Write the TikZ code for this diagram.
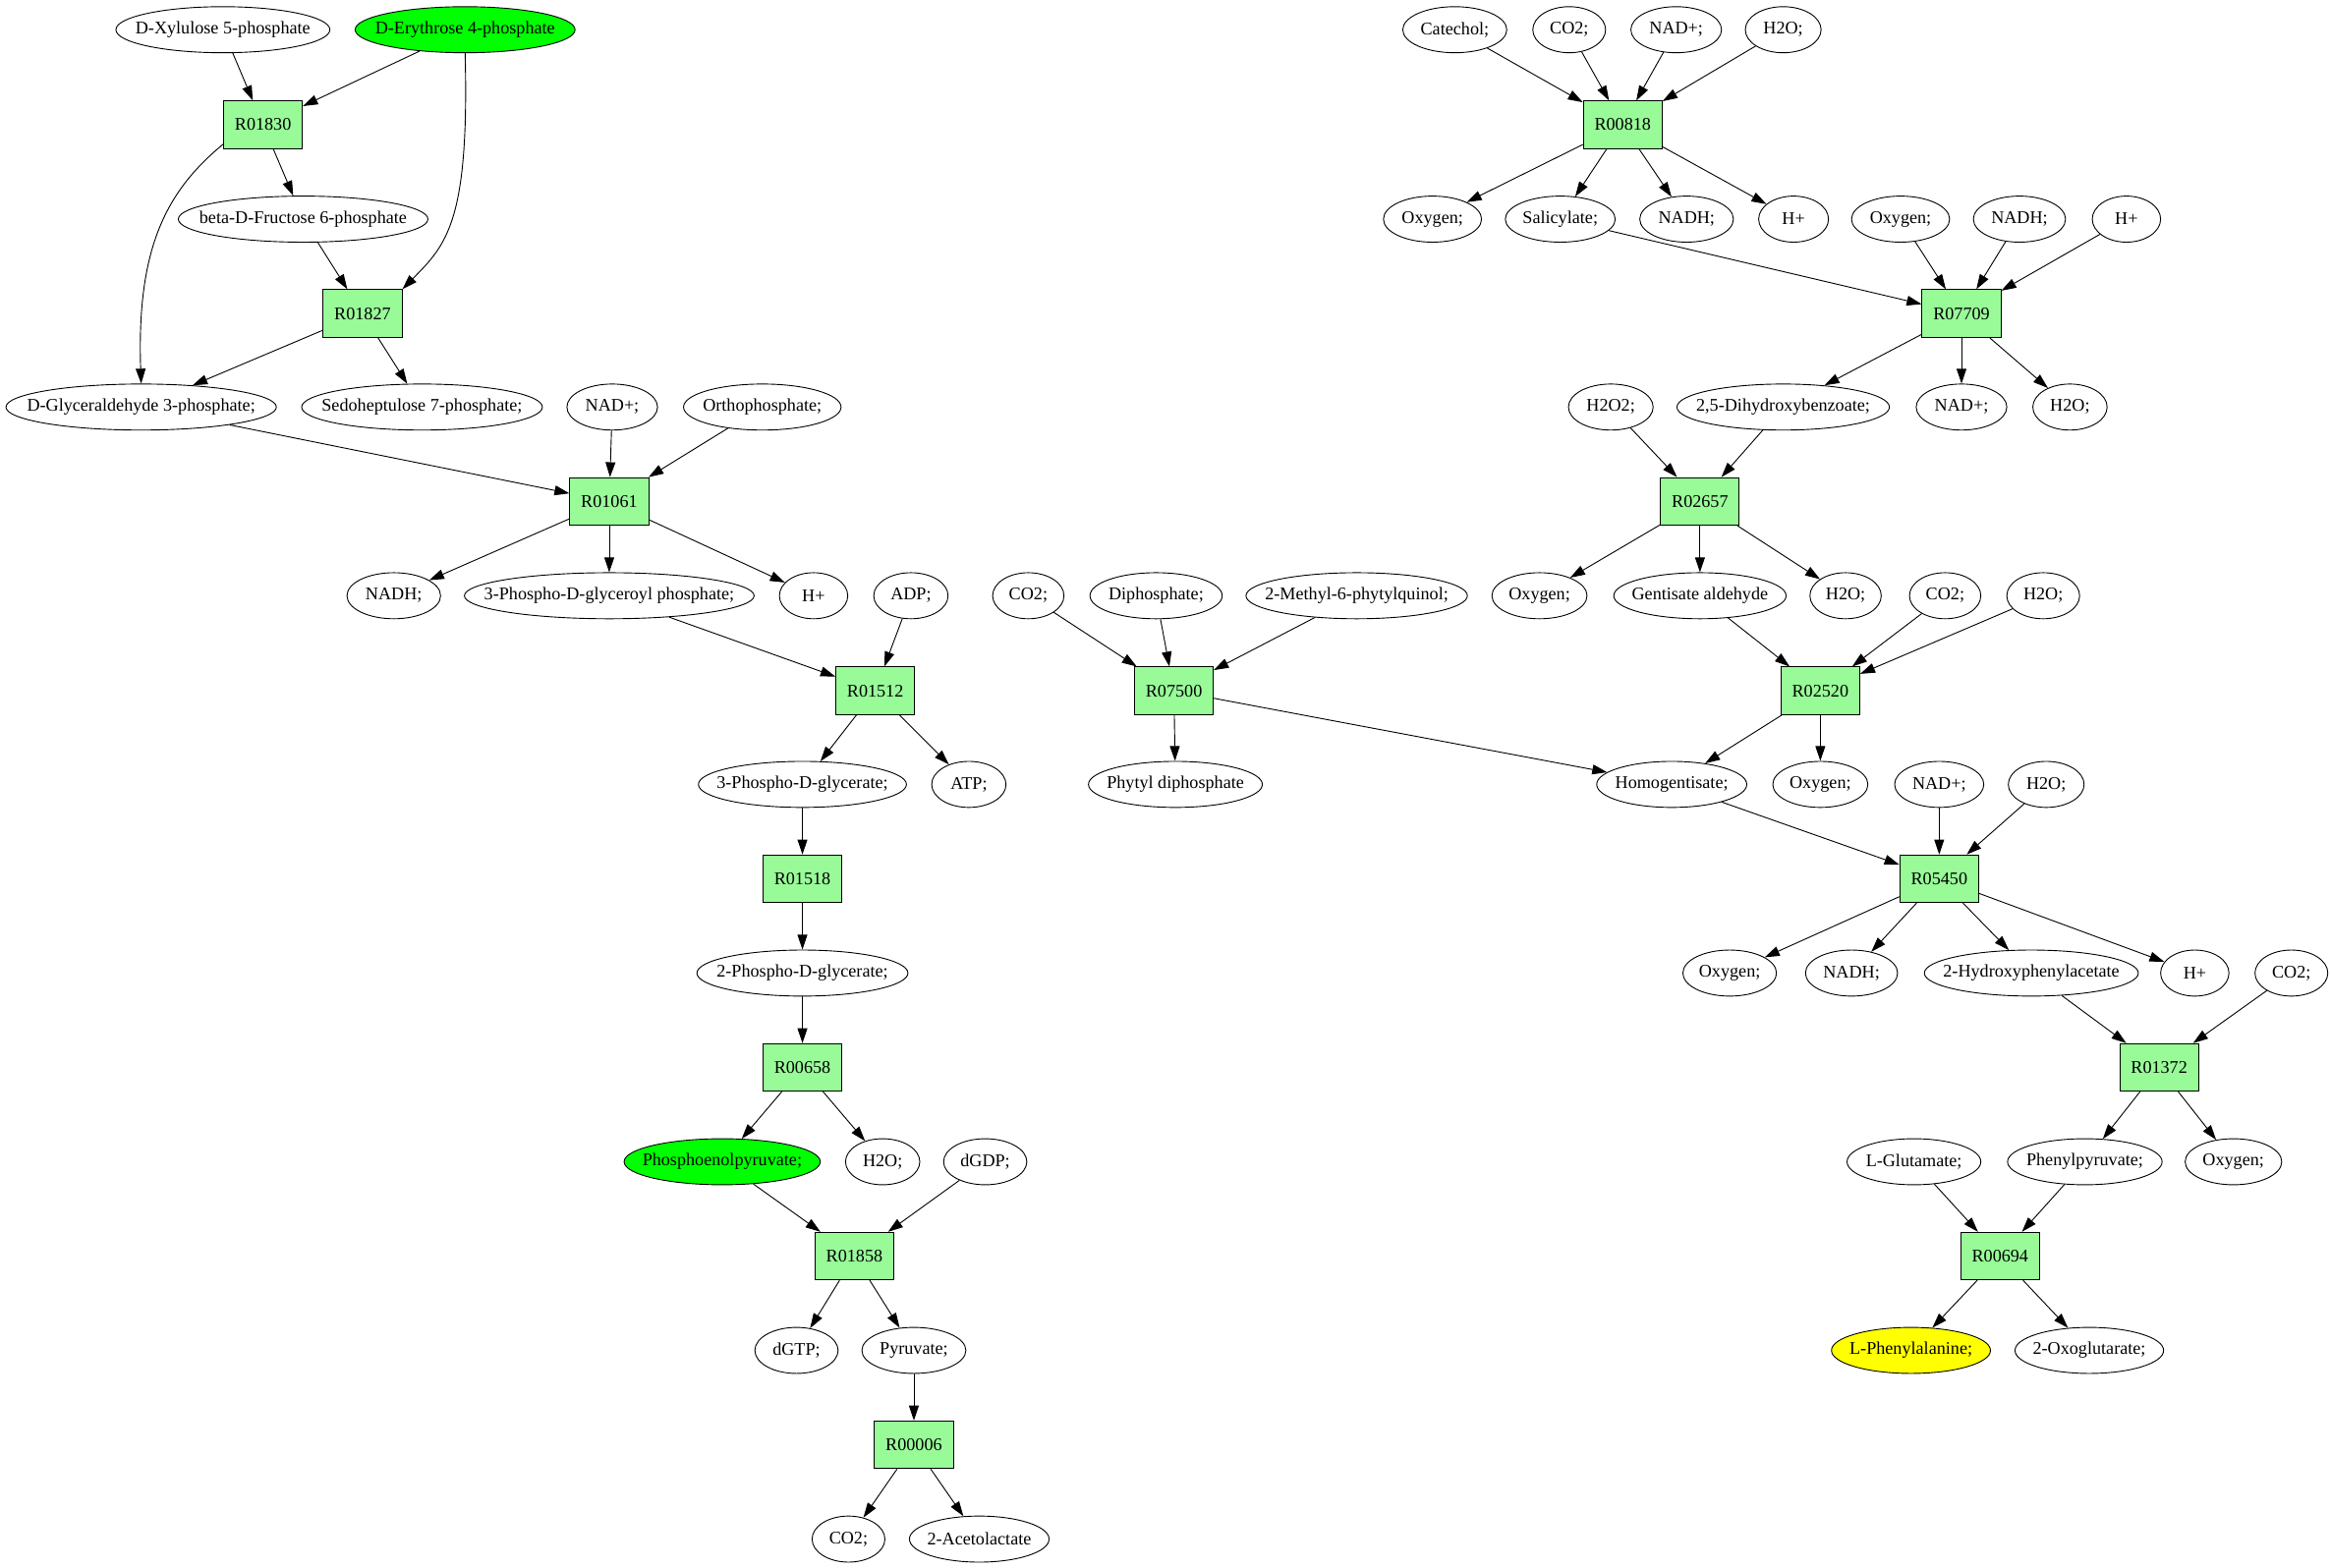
\documentclass[tikz,border=0pt]{standalone}
\usepackage{fontspec}
\setmainfont{Liberation Serif}
\usetikzlibrary{shapes.geometric,arrows.meta}

\definecolor{rxngreen}{HTML}{98FB98}
\definecolor{srcgreen}{HTML}{00FF00}
\definecolor{dstyellow}{HTML}{FFFF00}
\newcommand{\cpd}[1]{\makebox[0pt]{#1}}

\tikzset{
	rxn/.style={draw, line width=0.65pt, fill=rxngreen, minimum width=53pt, minimum height=32pt, inner sep=0pt},
	met/.style={draw, ellipse, line width=0.6pt, minimum width=#1, minimum height=31pt, inner sep=0pt}
}

\begin{document}
\begin{tikzpicture}[x=1pt, y=-1pt, line width=0.6pt, >={Triangle[length=10pt,width=6.6pt]}, font=\fontsize{12}{14}\selectfont]
		\useasboundingbox (0,0) rectangle (1568,1055);
		% left branch
		\node[met=144] (xyl) at (150,20) {\cpd{D-Xylulose 5-phosphate}};
		\node[met=148, fill=srcgreen] (ery) at (313,20) {\cpd{D-Erythrose 4-phosphate}};
		\node[rxn] (r01830) at (177,84) {R01830};
		\node[met=168] (fru) at (204,147.5) {\cpd{beta-D-Fructose 6-phosphate}};
		\node[rxn] (r01827) at (244,211) {R01827};
		\node[met=182] (gap) at (95,274) {\cpd{D-Glyceraldehyde 3-phosphate;}};
		\node[met=162] (sed) at (284,274) {\cpd{Sedoheptulose 7-phosphate;}};
		\node[met=61] (nadA) at (412,274) {\cpd{NAD+;}};
		\node[met=106] (pi) at (513,274) {\cpd{Orthophosphate;}};
		\node[rxn] (r01061) at (410,337.5) {R01061};
		\node[met=63] (nadhA) at (265,401) {\cpd{NADH;}};
		\node[met=195] (bpg) at (410,401) {\cpd{3-Phospho-D-glyceroyl phosphate;}};
		\node[met=46] (hA) at (547.5,401) {\cpd{H+}};
		\node[met=50] (adp) at (613,401) {\cpd{ADP;}};
		\node[rxn] (r01512) at (589,465) {R01512};
		\node[met=140] (pgA) at (540,528) {\cpd{3-Phospho-D-glycerate;}};
		\node[met=50] (atp) at (652,528) {\cpd{ATP;}};
		\node[rxn] (r01518) at (540,591.5) {R01518};
		\node[met=142] (pgB) at (540,655) {\cpd{2-Phospho-D-glycerate;}};
		\node[rxn] (r00658) at (540,718.5) {R00658};
		\node[met=132, fill=srcgreen] (pep) at (486,782) {\cpd{Phosphoenolpyruvate;}};
		\node[met=50] (h2oA) at (594,782) {\cpd{H2O;}};
		\node[met=56] (dgdp) at (663,782) {\cpd{dGDP;}};
		\node[rxn] (r01858) at (575,845.5) {R01858};
		\node[met=56] (dgtp) at (536,909) {\cpd{dGTP;}};
		\node[met=70] (pyr) at (615,909) {\cpd{Pyruvate;}};
		\node[rxn] (r00006) at (615,972.5) {R00006};
		\node[met=49] (co2A) at (571,1036) {\cpd{CO2;}};
		\node[met=94] (acl) at (659,1036) {\cpd{2-Acetolactate}};
		% middle branch
		\node[met=48] (co2B) at (692,401) {\cpd{CO2;}};
		\node[met=89] (ppi) at (778,401) {\cpd{Diphosphate;}};
		\node[met=149] (mpq) at (913,401) {\cpd{2-Methyl-6-phytylquinol;}};
		\node[rxn] (r07500) at (790,465) {R07500};
		\node[met=117] (phpp) at (791,528) {\cpd{Phytyl diphosphate}};
		\node[met=101] (hgt) at (1125,528) {\cpd{Homogentisate;}};
		% right branch
		\node[met=70] (cat) at (979,20) {\cpd{Catechol;}};
		\node[met=49] (co2C) at (1056,20) {\cpd{CO2;}};
		\node[met=61] (nadB) at (1128,20) {\cpd{NAD+;}};
		\node[met=51] (h2oB) at (1200,20) {\cpd{H2O;}};
		\node[rxn] (r00818) at (1092,84) {R00818};
		\node[met=66] (oxyA) at (964,147.5) {\cpd{Oxygen;}};
		\node[met=74] (sal) at (1050,147.5) {\cpd{Salicylate;}};
		\node[met=63] (nadhB) at (1135,147.5) {\cpd{NADH;}};
		\node[met=47] (hB) at (1207,147.5) {\cpd{H+}};
		\node[met=66] (oxyB) at (1279,147.5) {\cpd{Oxygen;}};
		\node[met=62] (nadhC) at (1359,147.5) {\cpd{NADH;}};
		\node[met=46] (hC) at (1431,147.5) {\cpd{H+}};
		\node[rxn] (r07709) at (1320,211) {R07709};
		\node[met=57] (h2o2) at (1084,274) {\cpd{H2O2;}};
		\node[met=143] (dhb) at (1200,274) {\cpd{2,5-Dihydroxybenzoate;}};
		\node[met=61] (nadC) at (1320,274) {\cpd{NAD+;}};
		\node[met=50] (h2oC) at (1393,274) {\cpd{H2O;}};
		\node[rxn] (r02657) at (1144,337.5) {R02657};
		\node[met=64] (oxyC) at (1036,401) {\cpd{Oxygen;}};
		\node[met=116] (gal) at (1144,401) {\cpd{Gentisate aldehyde}};
		\node[met=48] (h2oD) at (1242,401) {\cpd{H2O;}};
		\node[met=48] (co2D) at (1309,401) {\cpd{CO2;}};
		\node[met=49] (h2oE) at (1375,401) {\cpd{H2O;}};
		\node[rxn] (r02520) at (1225,465) {R02520};
		\node[met=64] (oxyD) at (1225,528) {\cpd{Oxygen;}};
		\node[met=60] (nadD) at (1305,528) {\cpd{NAD+;}};
		\node[met=51] (h2oF) at (1377,528) {\cpd{H2O;}};
		\node[rxn] (r05450) at (1305,591.5) {R05450};
		\node[met=63] (oxyE) at (1164,655) {\cpd{Oxygen;}};
		\node[met=62] (nadhD) at (1246,655) {\cpd{NADH;}};
		\node[met=144] (hpa) at (1367,655) {\cpd{2-Hydroxyphenylacetate}};
		\node[met=46] (hD) at (1477,655) {\cpd{H+}};
		\node[met=49] (co2E) at (1542,655) {\cpd{CO2;}};
		\node[rxn] (r01372) at (1453,718.5) {R01372};
		\node[met=90] (glu) at (1288,782) {\cpd{L-Glutamate;}};
		\node[met=104] (ppy) at (1403,782) {\cpd{Phenylpyruvate;}};
		\node[met=65] (oxyF) at (1503,782) {\cpd{Oxygen;}};
		\node[rxn] (r00694) at (1346,845.5) {R00694};
		\node[met=107, fill=dstyellow] (phe) at (1286,909) {\cpd{L-Phenylalanine;}};
		\node[met=100] (akg) at (1406,909) {\cpd{2-Oxoglutarate;}};

		% reactions, left
		\draw[->] (xyl) -- (r01830);
		\draw[->] (ery) -- (r01830);
		\draw[->] (r01830) -- (fru);
		\draw[->] (r01830.206) .. controls (110,130) and (92,170) .. (gap.north);
		\draw[->] (fru) -- (r01827);
		\draw[->] (ery.south) .. controls (316,150) and (300,165) .. (r01827.north east);
		\draw[->] (r01827) -- (gap);
		\draw[->] (r01827) -- (sed);
		\draw[->] (gap) -- (r01061);
		\draw[->] (nadA) -- (r01061);
		\draw[->] (pi) -- (r01061);
		\draw[->] (r01061) -- (nadhA);
		\draw[->] (r01061) -- (bpg);
		\draw[->] (r01061) -- (hA);
		\draw[->] (bpg) -- (r01512);
		\draw[->] (adp) -- (r01512);
		\draw[->] (r01512) -- (pgA);
		\draw[->] (r01512) -- (atp);
		\draw[->] (pgA) -- (r01518);
		\draw[->] (r01518) -- (pgB);
		\draw[->] (pgB) -- (r00658);
		\draw[->] (r00658) -- (pep);
		\draw[->] (r00658) -- (h2oA);
		\draw[->] (pep) -- (r01858);
		\draw[->] (dgdp) -- (r01858);
		\draw[->] (r01858) -- (dgtp);
		\draw[->] (r01858) -- (pyr);
		\draw[->] (pyr) -- (r00006);
		\draw[->] (r00006) -- (co2A);
		\draw[->] (r00006) -- (acl);
		% reactions, middle
		\draw[->] (co2B) -- (r07500);
		\draw[->] (ppi) -- (r07500);
		\draw[->] (mpq) -- (r07500);
		\draw[->] (r07500) -- (phpp);
		\draw[->] (r07500) -- (hgt);
		% reactions, right
		\draw[->] (cat) -- (r00818);
		\draw[->] (co2C) -- (r00818);
		\draw[->] (nadB) -- (r00818);
		\draw[->] (h2oB) -- (r00818);
		\draw[->] (r00818) -- (oxyA);
		\draw[->] (r00818) -- (sal);
		\draw[->] (r00818) -- (nadhB);
		\draw[->] (r00818) -- (hB);
		\draw[->] (sal) -- (r07709);
		\draw[->] (oxyB) -- (r07709);
		\draw[->] (nadhC) -- (r07709);
		\draw[->] (hC) -- (r07709);
		\draw[->] (r07709) -- (dhb);
		\draw[->] (r07709) -- (nadC);
		\draw[->] (r07709) -- (h2oC);
		\draw[->] (h2o2) -- (r02657);
		\draw[->] (dhb) -- (r02657);
		\draw[->] (r02657) -- (oxyC);
		\draw[->] (r02657) -- (gal);
		\draw[->] (r02657) -- (h2oD);
		\draw[->] (gal) -- (r02520);
		\draw[->] (co2D) -- (r02520);
		\draw[->] (h2oE) -- (r02520);
		\draw[->] (r02520) -- (hgt);
		\draw[->] (r02520) -- (oxyD);
		\draw[->] (hgt) -- (r05450);
		\draw[->] (nadD) -- (r05450);
		\draw[->] (h2oF) -- (r05450);
		\draw[->] (r05450) -- (oxyE);
		\draw[->] (r05450) -- (nadhD);
		\draw[->] (r05450) -- (hpa);
		\draw[->] (r05450) -- (hD);
		\draw[->] (hpa) -- (r01372);
		\draw[->] (co2E) -- (r01372);
		\draw[->] (r01372) -- (ppy);
		\draw[->] (r01372) -- (oxyF);
		\draw[->] (glu) -- (r00694);
		\draw[->] (ppy) -- (r00694);
		\draw[->] (r00694) -- (phe);
		\draw[->] (r00694) -- (akg);
	\end{tikzpicture}
\end{document}
